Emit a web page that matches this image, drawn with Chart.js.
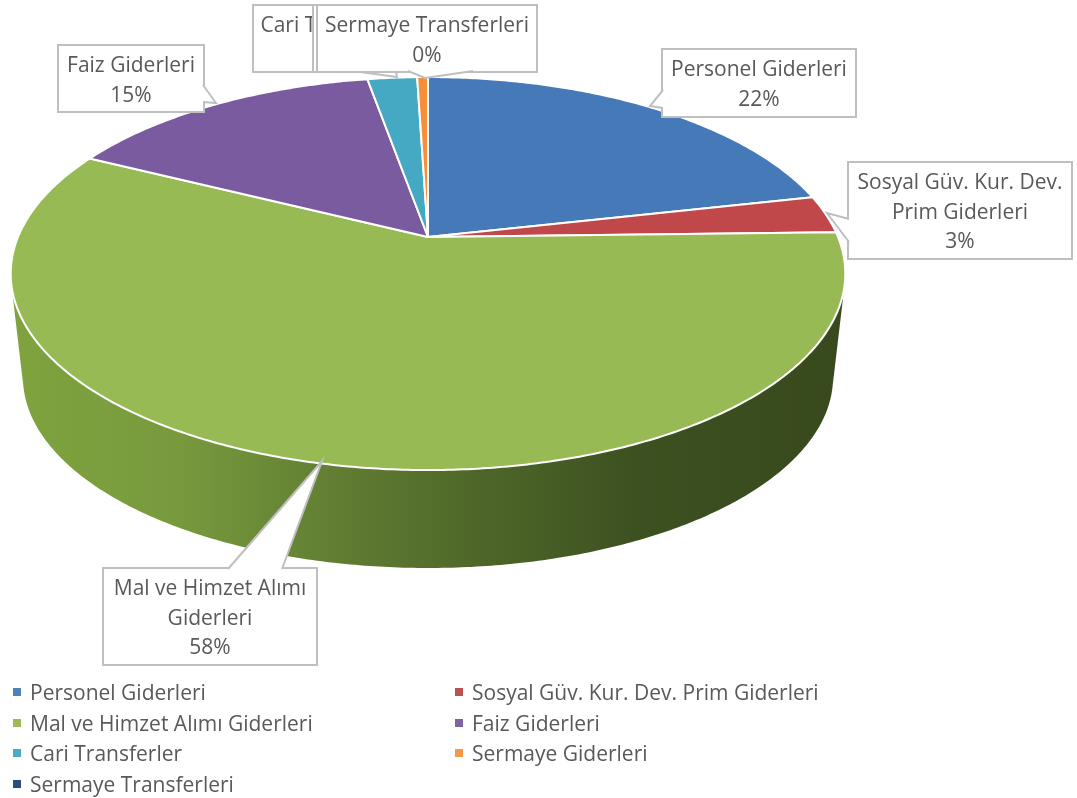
<!DOCTYPE html>
<html>
<head>
<meta charset="utf-8">
<script src="https://cdn.jsdelivr.net/npm/chart.js@4"></script>
<style>
html,body{margin:0;background:#fff;}
#wrap{position:relative;width:1077px;height:798px;overflow:hidden;}
#legend{position:absolute;left:13px;top:676.5px;display:grid;grid-template-columns:442px auto;grid-auto-rows:30.7px;font:21px "Open Sans",sans-serif;color:#595959;}
#legend div{display:flex;align-items:center;white-space:nowrap;}
#legend i{display:block;width:8px;height:8px;margin-right:9px;}
</style>
</head>
<body>
<div id="wrap">
<canvas id="pie" width="1077" height="798"></canvas>
<div id="legend"></div>
</div>
<script>
const labels=['Personel Giderleri','Sosyal Güv. Kur. Dev. Prim Giderleri','Mal ve Himzet Alımı Giderleri','Faiz Giderleri','Cari Transferler','Sermaye Giderleri','Sermaye Transferleri'];
const values=[21.5,3.1,57.8,14.8,2.3,0.5,0];
const colors=['#4f81bd','#c0504d','#9bbb59','#8064a2','#4bacc6','#f79646','#2c4d7d'];
const faceColors=['#4579b8','#c0474a','#98ba55','#7b5ba0','#45a9c4','#f78f3a','#2c4d7d'];

// callout text lines per slice, null = box only
const calloutLines=[['Personel Giderleri'],['Sosyal Güv. Kur. Dev.','Prim Giderleri'],['Mal ve Himzet Alımı','Giderleri'],['Faiz Giderleri'],['Cari Transferler'],null,['Sermaye Transferleri']];
// x0,y0,x1,y1 of box, then pointer polygon; drawn in this order
const callouts=[
  {i:0,box:[662,49,856,117],ptr:[[663,90],[650,106],[663,108]]},
  {i:1,box:[848,162,1072,259],ptr:[[849,219],[827,213],[849,242]]},
  {i:2,box:[103,568,317,665],ptr:[[228,569],[322,461],[282,569]]},
  {i:3,box:[58,45,204,112],ptr:[[203,85],[216,103],[203,102]]},
  {i:4,box:[253,5,420,72],ptr:[[353,71],[397,77],[396,71]]},
  {i:5,box:[313,5,530,72],ptr:[]},
  {i:6,box:[317,5,537,72],ptr:[[408,71],[425,78],[473,71]]}
];

// perspective disc: rim point for an arc angle, lvl 0 top face, lvl 1 bottom face
const K=0.186;
const faces=[{cx:428,cy:237,a:189.7,b:410},{cx:428,cy:341.7,a:184.2,b:398}];
function rim(angle,lvl){
  const t=angle+Math.PI/2,u=Math.sin(t),v=Math.cos(t),f=faces[lvl],w=1+K*v;
  return [f.cx+f.b*u/w,f.cy-f.a*v/w];
}
function rimPts(a0,a1,lvl){
  const n=Math.max(2,Math.ceil((a1-a0)/0.01)),pts=[];
  for(let i=0;i<=n;i++)pts.push(rim(a0+(a1-a0)*i/n,lvl));
  return pts;
}
function addPoly(ctx,pts){pts.forEach((p,i)=>i?ctx.lineTo(p[0],p[1]):ctx.moveTo(p[0],p[1]));ctx.closePath();}
function area(q){let s=0;q.forEach((p,i)=>{const n=q[(i+1)%q.length];s+=p[0]*n[1]-n[0]*p[1];});return s;}

const pie3d={
  id:'pie3d',
  beforeDatasetsDraw(chart){
    const ctx=chart.ctx,arcs=chart.getDatasetMeta(0).data;
    ctx.save();
    // side wall first, swept rim to rim so the tangent edges get filled too
    const g=ctx.createLinearGradient(10,0,846,0);
    g.addColorStop(0,'#7fa33f');g.addColorStop(.2,'#789a3d');g.addColorStop(.38,'#627f33');
    g.addColorStop(.55,'#4f6829');g.addColorStop(.75,'#3d5020');g.addColorStop(1,'#384a1d');
    ctx.fillStyle=g;
    ctx.beginPath();
    arcs.forEach((a,i)=>{
      if(values[i]<=0)return;
      const top=rimPts(a.startAngle,a.endAngle,0),bot=rimPts(a.startAngle,a.endAngle,1);
      for(let s=0;s<top.length-1;s++){
        const q=[top[s],top[s+1],bot[s+1],bot[s]];
        addPoly(ctx,area(q)<0?q.reverse():q); // same winding or nonzero punches holes
      }
    });
    ctx.fill();
    arcs.forEach((a,i)=>{
      if(values[i]<=0)return;
      ctx.beginPath();
      addPoly(ctx,[[faces[0].cx,faces[0].cy]].concat(rimPts(a.startAngle,a.endAngle,0)));
      ctx.fillStyle=faceColors[i];ctx.fill();
      ctx.strokeStyle='#fff';ctx.lineWidth=2;ctx.lineJoin='round';ctx.stroke();
    });
    ctx.restore();
    drawCallouts(ctx);
    return false;
  }
};

function drawCallouts(ctx){
  const total=values.reduce((s,v)=>s+v,0);
  ctx.save();
  ctx.textAlign='center';ctx.textBaseline='middle';ctx.font='21px "Open Sans",sans-serif';
  callouts.forEach(c=>{
    const [x0,y0,x1,y1]=c.box;
    ctx.fillStyle='#fff';ctx.strokeStyle='#bfbfbf';ctx.lineWidth=2;
    ctx.fillRect(x0,y0,x1-x0,y1-y0);ctx.strokeRect(x0,y0,x1-x0,y1-y0);
    ctx.beginPath();c.ptr.forEach((p,i)=>i?ctx.lineTo(p[0],p[1]):ctx.moveTo(p[0],p[1]));
    ctx.fill();ctx.stroke();
    const lines=calloutLines[c.i];
    if(!lines)return;
    const all=lines.concat([Math.round(values[c.i]/total*100)+'%']);
    const top=y0+21.5;
    ctx.fillStyle='#595959';
    all.forEach((t,k)=>ctx.fillText(t,(x0+x1)/2,top+k*29.2));
  });
  ctx.restore();
}

new Chart(document.getElementById('pie'),{
  type:'pie',
  data:{labels,datasets:[{data:values,backgroundColor:colors}]},
  options:{responsive:false,animation:false,plugins:{legend:{display:false},tooltip:{enabled:false}}},
  plugins:[pie3d]
});

document.getElementById('legend').innerHTML=labels.map((l,i)=>`<div><i style="background:${colors[i]}"></i>${l}</div>`).join('');
</script>
</body>
</html>
